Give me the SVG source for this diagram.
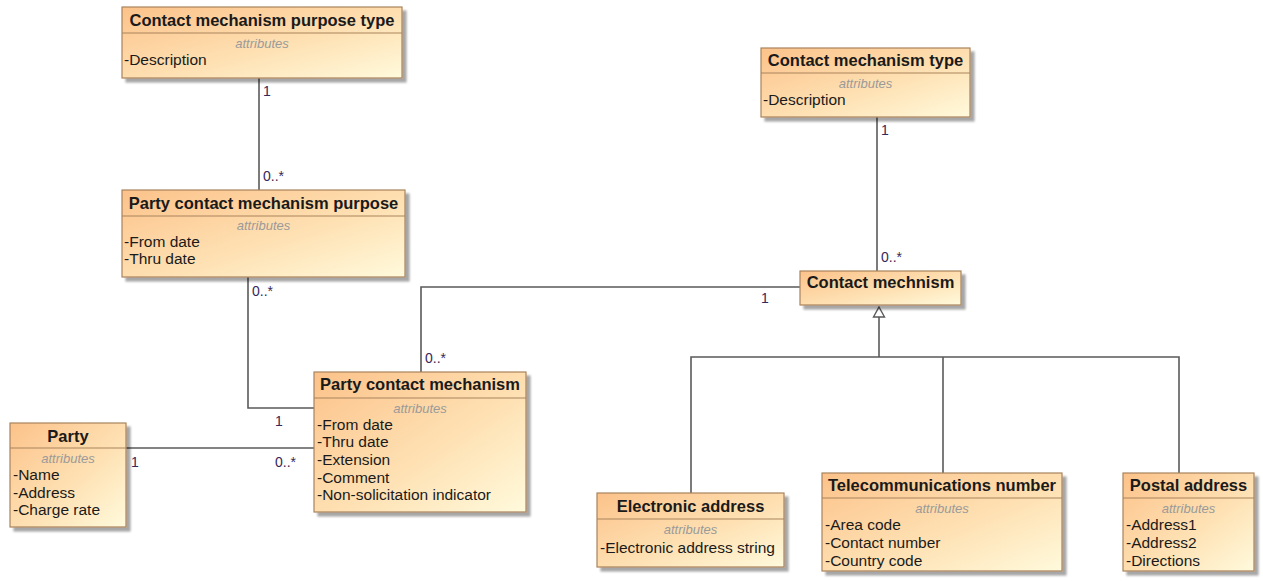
<svg xmlns="http://www.w3.org/2000/svg" width="1263" height="581" viewBox="0 0 1263 581">
  <defs>
    <linearGradient id="fill" x1="0" y1="0" x2="1" y2="1" gradientUnits="objectBoundingBox">
      <stop offset="0" stop-color="#fcc28a"/>
      <stop offset="0.55" stop-color="#fee0b2"/>
      <stop offset="1" stop-color="#fffadc"/>
    </linearGradient>
    <filter id="shadow" x="-10%" y="-10%" width="130%" height="130%">
      <feGaussianBlur in="SourceAlpha" stdDeviation="1.2"/>
      <feOffset dx="4" dy="4" result="b"/>
      <feComponentTransfer><feFuncA type="linear" slope="0.35"/></feComponentTransfer>
      <feMerge><feMergeNode/><feMergeNode in="SourceGraphic"/></feMerge>
    </filter>
  </defs>
  <style>
    .box { fill: url(#fill); stroke: #a9835c; stroke-width: 1.2; filter: url(#shadow); }
    .sep { stroke: #a9835c; stroke-width: 1.2; }
    .title { font-family: "Liberation Sans", Arial, sans-serif; font-weight: bold; font-size: 16.5px; fill: #1a1a1a; text-anchor: middle; }
    .stereo { font-family: "Liberation Sans", Arial, sans-serif; font-style: italic; font-size: 13px; fill: #9a9a9a; text-anchor: middle; }
    .attr { font-family: "Liberation Sans", Arial, sans-serif; font-size: 15.5px; fill: #1a1a1a; }
    .conn { fill: none; stroke: #5a5a5a; stroke-width: 1.6; }
    .gen { fill: #ffffff; stroke: #5a5a5a; stroke-width: 1.4; }
    .mult { font-family: "Liberation Sans", Arial, sans-serif; font-size: 14px; fill: #35285a; }
  </style>

  <rect width="1263" height="581" fill="#ffffff"/>

  <!-- associations and generalization -->
  <g id="connectors">
    <path class="conn" d="M259,78 V190"/>
    <path class="conn" d="M877,117 V271"/>
    <path class="conn" d="M248,277 V408 H314"/>
    <path class="conn" d="M800,287 H421 V372"/>
    <path class="conn" d="M126,448 H314"/>
    <path class="conn" d="M879,357 V317"/>
    <polygon class="gen" points="879,307 884.5,317 873.5,317"/>
    <path class="conn" d="M691,493 V357 H1179 V473"/>
    <path class="conn" d="M943,357 V473"/>

    <text class="mult" x="263" y="96">1</text>
    <text class="mult" x="263" y="181">0..*</text>
    <text class="mult" x="881" y="135">1</text>
    <text class="mult" x="881" y="262">0..*</text>
    <text class="mult" x="252" y="296">0..*</text>
    <text class="mult" x="275" y="426">1</text>
    <text class="mult" x="761" y="303">1</text>
    <text class="mult" x="425" y="363">0..*</text>
    <text class="mult" x="131" y="467">1</text>
    <text class="mult" x="275" y="467">0..*</text>
  </g>

  <g id="contact-mechanism-purpose-type">
    <rect class="box" x="122" y="7" width="280" height="71"/>
    <line class="sep" x1="122" y1="33" x2="402" y2="33"/>
    <text class="title" x="262" y="26">Contact mechanism purpose type</text>
    <text class="stereo" x="262" y="48">attributes</text>
    <text class="attr" x="124" y="65">-Description</text>
  </g>

  <g id="party-contact-mechanism-purpose">
    <rect class="box" x="122" y="190" width="283" height="87"/>
    <line class="sep" x1="122" y1="216" x2="405" y2="216"/>
    <text class="title" x="263.5" y="209">Party contact mechanism purpose</text>
    <text class="stereo" x="263.5" y="230">attributes</text>
    <text class="attr" x="124" y="247">-From date</text>
    <text class="attr" x="124" y="264">-Thru date</text>
  </g>

  <g id="contact-mechanism-type">
    <rect class="box" x="761" y="48" width="209" height="69"/>
    <line class="sep" x1="761" y1="73" x2="970" y2="73"/>
    <text class="title" x="865.5" y="66">Contact mechanism type</text>
    <text class="stereo" x="865.5" y="88">attributes</text>
    <text class="attr" x="763" y="105">-Description</text>
  </g>

  <g id="contact-mechnism">
    <rect class="box" x="800" y="271" width="161" height="34"/>
    <text class="title" x="880.5" y="288">Contact mechnism</text>
  </g>

  <g id="party">
    <rect class="box" x="10" y="423" width="116" height="104"/>
    <line class="sep" x1="10" y1="448" x2="126" y2="448"/>
    <text class="title" x="68" y="442">Party</text>
    <text class="stereo" x="68" y="463">attributes</text>
    <text class="attr" x="13" y="480">-Name</text>
    <text class="attr" x="13" y="498">-Address</text>
    <text class="attr" x="13" y="515">-Charge rate</text>
  </g>

  <g id="party-contact-mechanism">
    <rect class="box" x="314" y="372" width="212" height="140"/>
    <line class="sep" x1="314" y1="398" x2="526" y2="398"/>
    <text class="title" x="420" y="390">Party contact mechanism</text>
    <text class="stereo" x="420" y="413">attributes</text>
    <text class="attr" x="317" y="430">-From date</text>
    <text class="attr" x="317" y="447">-Thru date</text>
    <text class="attr" x="317" y="465">-Extension</text>
    <text class="attr" x="317" y="483">-Comment</text>
    <text class="attr" x="317" y="500">-Non-solicitation indicator</text>
  </g>

  <g id="electronic-address">
    <rect class="box" x="597" y="493" width="187" height="74"/>
    <line class="sep" x1="597" y1="519" x2="784" y2="519"/>
    <text class="title" x="690.5" y="512">Electronic address</text>
    <text class="stereo" x="690.5" y="534">attributes</text>
    <text class="attr" x="600" y="553">-Electronic address string</text>
  </g>

  <g id="telecommunications-number">
    <rect class="box" x="822" y="473" width="240" height="98"/>
    <line class="sep" x1="822" y1="498" x2="1062" y2="498"/>
    <text class="title" x="942" y="491">Telecommunications number</text>
    <text class="stereo" x="942" y="513">attributes</text>
    <text class="attr" x="825" y="530">-Area code</text>
    <text class="attr" x="825" y="548">-Contact number</text>
    <text class="attr" x="825" y="566">-Country code</text>
  </g>

  <g id="postal-address">
    <rect class="box" x="1123" y="473" width="131" height="98"/>
    <line class="sep" x1="1123" y1="498" x2="1254" y2="498"/>
    <text class="title" x="1188.5" y="491">Postal address</text>
    <text class="stereo" x="1188.5" y="513">attributes</text>
    <text class="attr" x="1126" y="530">-Address1</text>
    <text class="attr" x="1126" y="548">-Address2</text>
    <text class="attr" x="1126" y="566">-Directions</text>
  </g>
</svg>
